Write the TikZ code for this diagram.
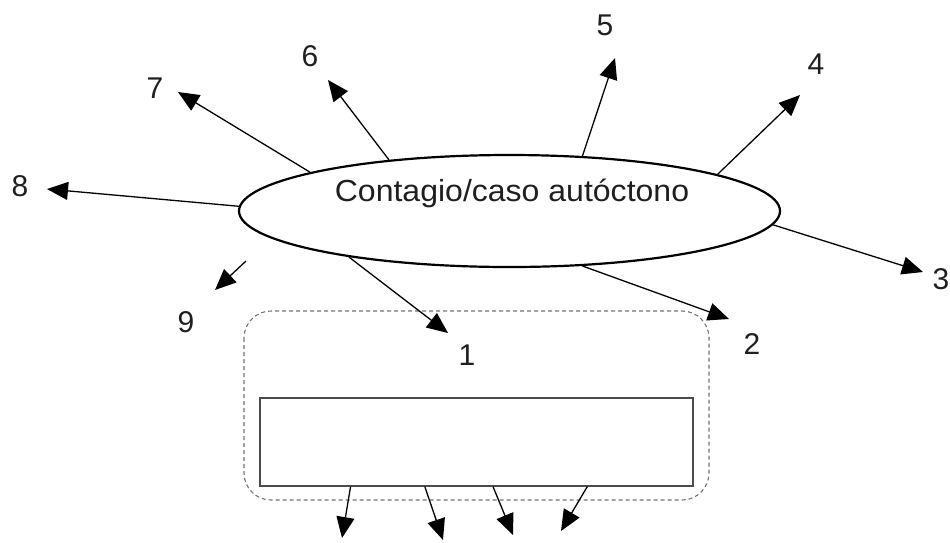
\documentclass[tikz,border=0pt]{standalone}
\usepackage{fontspec}
\setmainfont{Liberation Sans}
\newfontfamily\titlefont[FakeStretch=1.05]{Liberation Sans}
\usetikzlibrary{shapes.geometric,arrows.meta,calc}

\tikzset{
  lbl/.style={font=\fontsize{30}{34}\selectfont, text=black!88, inner sep=0pt},
  ray/.style={line width=1.3pt, -{Triangle[length=21pt,width=18pt]}},
  rim/.style={ellipse, draw, line width=2.2pt, inner sep=0pt,
              minimum width=541pt, minimum height=112pt},
  fence/.style={draw=black!55, dashed, dash pattern=on 4pt off 3pt,
                line width=1.1pt, rounded corners=27pt},
  panel/.style={draw=black!70, line width=1.3pt}
}

\begin{document}
\begin{tikzpicture}[x=1pt,y=-1pt]
  \useasboundingbox (0,0) rectangle (950,542);

  % central ellipse and its caption
  \node[rim] (ell) at (509.5,211) {};
  \node[font=\titlefont\fontsize{30.5}{34}\selectfont, text=black!88, inner sep=0pt]
       (title) at (512,193) {Contagio/caso autóctono};

  % dashed group with the empty panel inside
  \draw[fence] (244,311) rectangle (709,500);
  \node[panel, minimum width=433pt, minimum height=88pt, inner sep=0pt]
       (box) at (476.5,442) {};

  % arrow tips
  \coordinate (t1) at (448,333);
  \coordinate (t2) at (729,319);
  \coordinate (t3) at (923,272);
  \coordinate (t4) at (800,95);
  \coordinate (t5) at (615,58);
  \coordinate (t6) at (328,80);
  \coordinate (t7) at (178,92);
  \coordinate (t8) at (47,189);
  \coordinate (s9) at (246,261);
  \coordinate (t9) at (215,290);

  % rays leaving the ellipse
  \draw[ray] (ell.196.3) -- (t1);
  \draw[ray] (ell.323.4) -- (t2);
  \draw[ray] (ell.357.7) -- (t3);
  \draw[ray] (ell.10.6)  -- (t4);
  \draw[ray] (ell.37.3)  -- (t5);
  \draw[ray] (ell.157.5) -- (t6);
  \draw[ray] (ell.169.1) -- (t7);
  \draw[ray] (ell.179.4) -- (t8);
  \draw[ray] (s9) -- (t9);

  % numbers
  \node[lbl] (n1) at (467,355) {1};
  \node[lbl] (n2) at (752,344) {2};
  \node[lbl] (n3) at (941,279) {3};
  \node[lbl] (n4) at (816,64)  {4};
  \node[lbl] (n5) at (605,25)  {5};
  \node[lbl] (n6) at (310,56)  {6};
  \node[lbl] (n7) at (155,88)  {7};
  \node[lbl] (n8) at (20,186)  {8};
  \node[lbl] (n9) at (186,322) {9};

  % arrows below the panel
  \coordinate (b1) at (342,538);
  \coordinate (b2) at (443,540);
  \coordinate (b3) at (513,535);
  \coordinate (b4) at (561,531);
  \draw[ray] ($(box.south west)!0.210!(box.south east)$) -- (b1);
  \draw[ray] ($(box.south west)!0.381!(box.south east)$) -- (b2);
  \draw[ray] ($(box.south west)!0.538!(box.south east)$) -- (b3);
  \draw[ray] ($(box.south west)!0.755!(box.south east)$) -- (b4);
\end{tikzpicture}
\end{document}
